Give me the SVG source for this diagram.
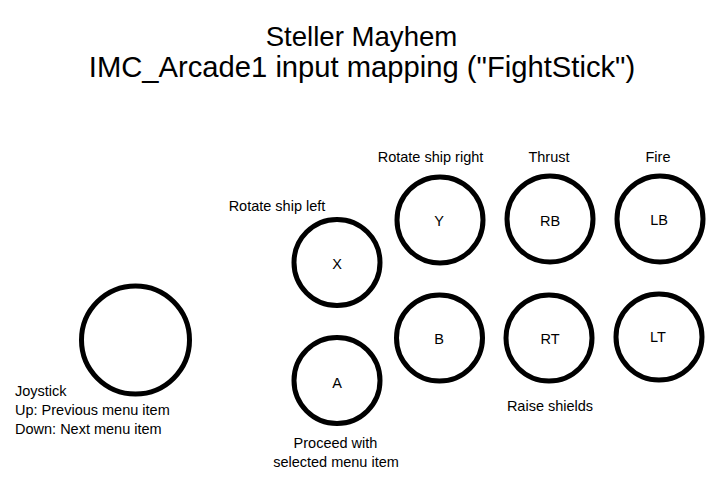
<svg xmlns="http://www.w3.org/2000/svg" width="723" height="487" viewBox="0 0 723 487">
<style>
text{font-family:"Liberation Sans",Arial,sans-serif;fill:#000}
.t{text-anchor:middle}
.l{font-size:14.5px}
.c{text-anchor:middle}
.b{fill:none;stroke:#000;stroke-width:5}
</style>
<rect width="723" height="487" fill="#fff"/>
<g id="title">
<text class="t" x="361.5" y="46" font-size="27.6">Steller Mayhem</text>
<text class="t" x="362" y="77" font-size="29.2">IMC_Arcade1 input mapping ("FightStick")</text>
</g>
<g id="joystick">
<circle class="b" cx="135.5" cy="340" r="54"/>
<text class="l" x="15" y="396">Joystick</text>
<text class="l" x="15" y="415">Up: Previous menu item</text>
<text class="l" x="15" y="434">Down: Next menu item</text>
</g>
<g id="btnX">
<circle class="b" cx="337" cy="262.5" r="43"/>
<text class="l c" x="337" y="269">X</text>
<text class="l c" x="277" y="211">Rotate ship left</text>
</g>
<g id="btnA">
<circle class="b" cx="337" cy="380.5" r="43"/>
<text class="l c" x="337" y="388">A</text>
<text class="l c" x="335.5" y="448">Proceed with</text>
<text class="l c" x="336" y="467">selected menu item</text>
</g>
<g id="btnY">
<circle class="b" cx="440" cy="220" r="43"/>
<text class="l c" x="439" y="226">Y</text>
<text class="l c" x="430.5" y="162">Rotate ship right</text>
</g>
<g id="btnB">
<circle class="b" cx="439.5" cy="338" r="43"/>
<text class="l c" x="439" y="344">B</text>
</g>
<g id="btnRB">
<circle class="b" cx="550" cy="219" r="43"/>
<text class="l c" x="550" y="226">RB</text>
<text class="l c" x="549" y="162">Thrust</text>
</g>
<g id="btnRT">
<circle class="b" cx="549" cy="338" r="43"/>
<text class="l c" x="550" y="344">RT</text>
<text class="l c" x="550" y="411">Raise shields</text>
</g>
<g id="btnLB">
<circle class="b" cx="660" cy="219" r="43"/>
<text class="l c" x="659" y="225">LB</text>
<text class="l c" x="658" y="162">Fire</text>
</g>
<g id="btnLT">
<circle class="b" cx="659" cy="337" r="43"/>
<text class="l c" x="658" y="342">LT</text>
</g>
<g id="connectors"></g>
</svg>
